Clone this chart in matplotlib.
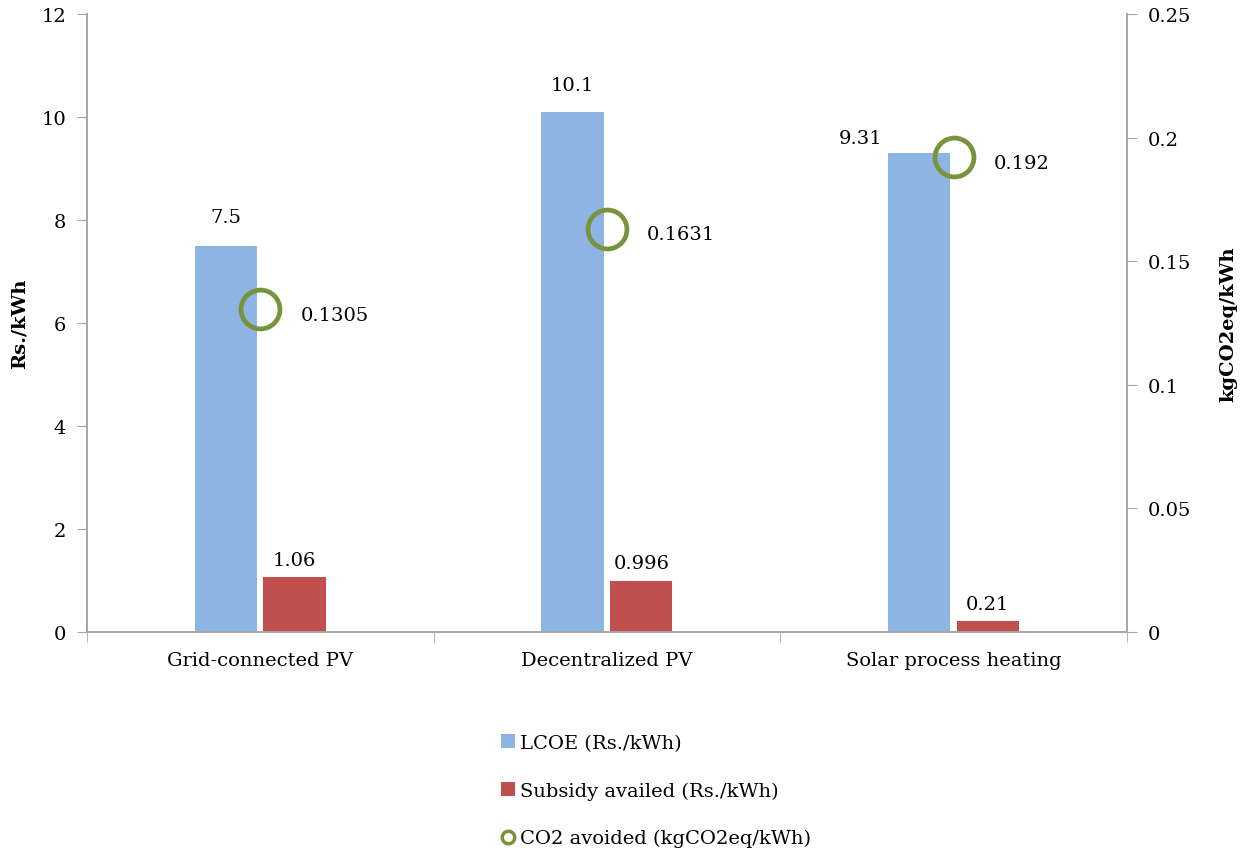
import matplotlib.pyplot as plt
import numpy as np
from matplotlib.lines import Line2D
from matplotlib.patches import Patch

plt.rcParams["font.family"] = ["DejaVu Serif"]

# data
categories = ["Grid-connected PV", "Decentralized PV", "Solar process heating"]
lcoe = [7.5, 10.1, 9.31]
subsidy = [1.06, 0.996, 0.21]
co2 = [0.1305, 0.1631, 0.192]

lcoe_labels = ["7.5", "10.1", "9.31"]
subsidy_labels = ["1.06", "0.996", "0.21"]
co2_labels = ["0.1305", "0.1631", "0.192"]

blue = "#8EB4E3"
red = "#C0504D"
green = "#77933C"
grey = "#A6A6A6"

fig = plt.figure(figsize=(12.53, 8.54), dpi=100)
ax = fig.add_axes([0.0694, 0.2588, 0.83, 0.7236])
ax2 = ax.twinx()

x = np.arange(len(categories))
w = 0.18
gap = 0.009
ax.bar(x - w / 2 - gap, lcoe, w, color=blue, label="LCOE (Rs./kWh)")
ax.bar(x + w / 2 + gap, subsidy, w, color=red, label="Subsidy availed (Rs./kWh)")
ax2.plot(x, co2, linestyle="none", marker="o", markersize=28, markerfacecolor="none",
         markeredgecolor=green, markeredgewidth=3.4, label="CO2 avoided (kgCO2eq/kWh)")

# data labels
fs = 14
lcoe_off = [(0, 14), (0, 13), (-42, 4)]
for i in range(len(categories)):
    ax.annotate(lcoe_labels[i], (x[i] - w / 2 - gap, lcoe[i]), xytext=lcoe_off[i],
                textcoords="offset points", ha="center", va="bottom", fontsize=fs)
    ax.annotate(subsidy_labels[i], (x[i] + w / 2 + gap, subsidy[i]), xytext=(0, 6),
                textcoords="offset points", ha="center", va="bottom", fontsize=fs)
    ax2.annotate(co2_labels[i], (x[i], co2[i]), xytext=(29, -4),
                 textcoords="offset points", ha="left", va="center", fontsize=fs)

ax.set_xlim(-0.5, 2.5)
ax.set_ylim(0, 12)
ax.set_yticks(range(0, 13, 2))
ax2.set_ylim(0, 0.25)
ax2.set_yticks([0, 0.05, 0.1, 0.15, 0.2, 0.25])
ax2.set_yticklabels(["0", "0.05", "0.1", "0.15", "0.2", "0.25"])

ax.set_xticks(x)
ax.set_xticklabels(categories, fontsize=fs)
ax.set_xticks([-0.5, 0.5, 1.5, 2.5], minor=True)
ax.tick_params(axis="x", which="major", length=0, pad=14)
ax.tick_params(axis="x", which="minor", length=7, color=grey)
ax.tick_params(axis="y", labelsize=fs, length=7, color=grey, pad=8)
ax2.tick_params(axis="y", labelsize=fs, length=7, color=grey, pad=8)

ax.set_ylabel("Rs./kWh", fontsize=fs, fontweight="bold", labelpad=9)
ax2.set_ylabel("kgCO2eq/kWh", fontsize=fs, fontweight="bold", labelpad=20)

for a in (ax, ax2):
    a.spines["top"].set_visible(False)
    for s in ("left", "right", "bottom"):
        a.spines[s].set_color(grey)
        a.spines[s].set_linewidth(1.2)

handles = [
    Patch(facecolor=blue, label="LCOE (Rs./kWh)"),
    Patch(facecolor=red, label="Subsidy availed (Rs./kWh)"),
    Line2D([], [], linestyle="none", marker="o", markersize=9, markerfacecolor="none",
           markeredgecolor=green, markeredgewidth=2.5, label="CO2 avoided (kgCO2eq/kWh)"),
]
fig.legend(handles=handles, loc="upper left", bbox_to_anchor=(0.392, 0.151),
           frameon=False, fontsize=fs, handlelength=0.7, handleheight=0.7,
           handletextpad=0.3, labelspacing=1.52, borderpad=0)

fig.savefig("out.png", dpi=100)
